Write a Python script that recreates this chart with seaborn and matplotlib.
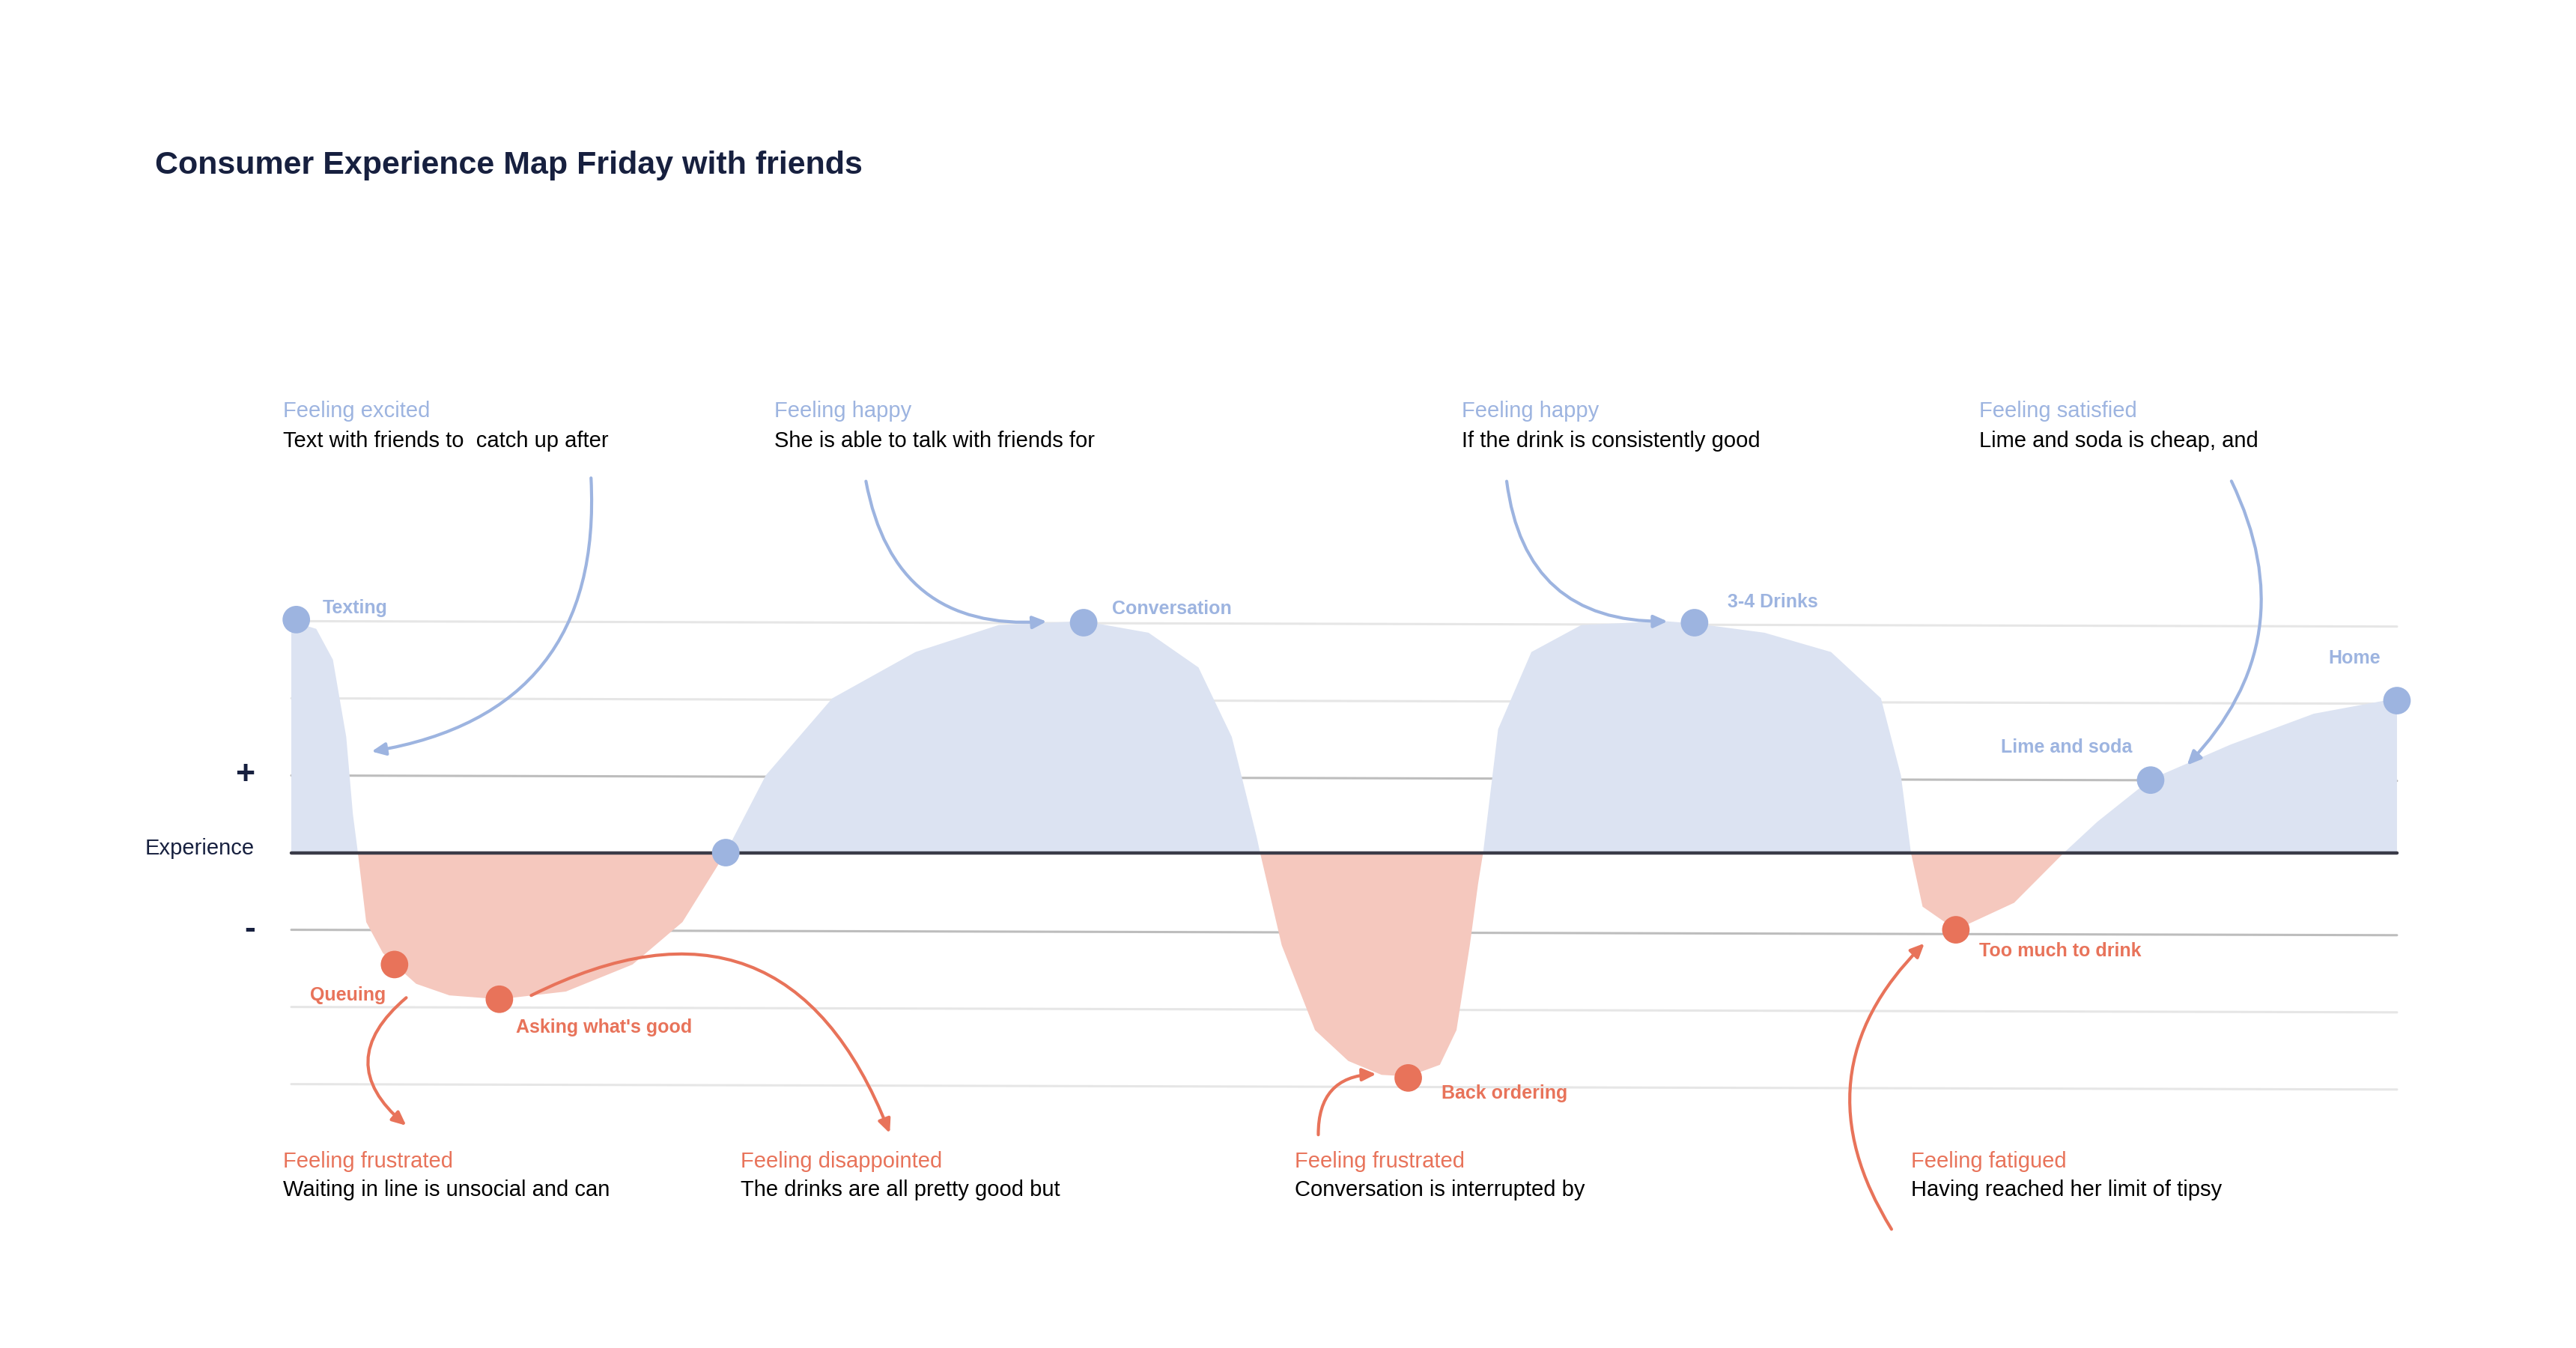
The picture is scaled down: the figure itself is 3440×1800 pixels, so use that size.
import numpy as np
import pandas as pd
import matplotlib
matplotlib.use("Agg")
import matplotlib.pyplot as plt
import seaborn as sns

# curve: timeline position and experience level
curve_x = [175, 190, 200, 208, 212, 215, 220, 230, 237, 250, 270, 300, 340, 380, 410, 436,
           460, 500, 550, 600, 651, 690, 720, 740, 755, 757, 770, 790, 810, 830, 846, 865,
           875, 883, 888, 891, 900, 920, 950, 1000, 1018, 1060, 1100, 1130, 1142, 1148,
           1155, 1175, 1210, 1240, 1260, 1292, 1340, 1390, 1440]
curve_y = [3.0, 2.9, 2.5, 1.5, 0.5, 0.0, -0.9, -1.3, -1.45, -1.7, -1.85, -1.9, -1.8, -1.45,
           -0.9, 0.0, 1.0, 2.0, 2.6, 2.95, 3.0, 2.85, 2.4, 1.5, 0.2, 0.0, -1.2, -2.3, -2.7,
           -2.88, -2.9, -2.75, -2.3, -1.2, -0.4, 0.0, 1.6, 2.6, 2.95, 3.0, 2.97, 2.85, 2.6,
           2.0, 1.0, 0.0, -0.7, -1.0, -0.65, 0.0, 0.4, 0.95, 1.4, 1.8, 2.0]

point_names = ["Texting", "Queuing", "Asking what's good", "", "Conversation", "Back ordering",
               "3-4 Drinks", "Too much to drink", "Lime and soda", "Home"]
point_x = [178, 237, 300, 436, 651, 846, 1018, 1175, 1292, 1440]
point_y = [3.02, -1.45, -1.9, 0.0, 2.98, -2.92, 2.98, -1.0, 0.94, 1.97]
point_mood = ["pos", "neg", "neg", "pos", "pos", "neg", "pos", "neg", "pos", "pos"]

top_heads = ["Feeling excited", "Feeling happy", "Feeling happy", "Feeling satisfied"]
top_texts = ["Text with friends to  catch up after", "She is able to talk with friends for",
             "If the drink is consistently good", "Lime and soda is cheap, and"]
top_x = [170, 465, 878, 1189]
bot_heads = ["Feeling frustrated", "Feeling disappointed", "Feeling frustrated", "Feeling fatigued"]
bot_texts = ["Waiting in line is unsocial and can", "The drinks are all pretty good but",
             "Conversation is interrupted by", "Having reached her limit of tipsy"]
bot_x = [170, 445, 778, 1148]

grid_levels = [3, 2, 1, -1, -2, -3]

BLUE = "#9DB4E0"
BLUE_FILL = "#DCE3F2"
RED = "#E8735A"
RED_FILL = "#F5C8BE"
NAVY = "#17203F"

sns.set_style("white")
plt.rcParams["font.family"] = ["Liberation Sans", "DejaVu Sans"]

fig = plt.figure(figsize=(34.41, 18), dpi=100)
ax = fig.add_axes([0, 0, 1, 1])
ax.set_xlim(0, 1548)
ax.set_ylim(-6.42, 11.05)
ax.axis("off")

def lv(py):
    # pixel row of the reference -> experience level
    return (516 - py) / 46.7

# grid
for g in grid_levels:
    col = "#BDBDBD" if abs(g) == 1 else "#E6E6E6"
    ax.plot([175, 1440], [g, g - 0.07], color=col, lw=2.2, zorder=1)

cx = np.array(curve_x, dtype=float)
cy = np.array(curve_y)
ax.fill_between(cx, 0, cy, where=cy >= 0, interpolate=True, color=BLUE_FILL, lw=0, zorder=2)
ax.fill_between(cx, 0, cy, where=cy <= 0, interpolate=True, color=RED_FILL, lw=0, zorder=2)
ax.plot([175, 1440], [0, 0], color="#3A3B48", lw=3.2, zorder=3)

pts = pd.DataFrame({"x": point_x, "y": point_y, "mood": point_mood})
sns.scatterplot(data=pts, x="x", y="y", hue="mood", palette={"pos": BLUE, "neg": RED},
                s=700, edgecolor="none", legend=False, ax=ax, zorder=5)

# point labels
lab_off = {"Texting": (16, 0.15, "left"), "Queuing": (-5, -0.4, "right"),
           "Asking what's good": (10, -0.37, "left"), "Conversation": (17, 0.18, "left"),
           "Back ordering": (20, -0.2, "left"), "3-4 Drinks": (20, 0.27, "left"),
           "Too much to drink": (14, -0.28, "left"), "Lime and soda": (-11, 0.42, "right"),
           "Home": (-10, 0.55, "right")}
for name, x, y, m in zip(point_names, point_x, point_y, point_mood):
    if not name:
        continue
    dx, dy, ha = lab_off[name]
    ax.text(x + dx, y + dy, name, color=BLUE if m == "pos" else RED, fontsize=18,
            fontweight="bold", ha=ha, va="center")

for x, h, t in zip(top_x, top_heads, top_texts):
    ax.text(x, lv(249), h, color=BLUE, fontsize=21, va="center")
    ax.text(x, lv(267), t, color="black", fontsize=21, va="center")
for x, h, t in zip(bot_x, bot_heads, bot_texts):
    ax.text(x, lv(703), h, color=RED, fontsize=21, va="center")
    ax.text(x, lv(720), t, color="black", fontsize=21, va="center")

ax.text(93, lv(100), "Consumer Experience Map Friday with friends", color=NAVY,
        fontsize=31, fontweight="bold", va="center")
ax.text(153, 0.05, "Experience", color=NAVY, fontsize=21, ha="right", va="center")
ax.text(147, 1.0, "+", color=NAVY, fontsize=32, fontweight="bold", ha="center", va="center")
ax.text(150, -1.0, "-", color=NAVY, fontsize=32, fontweight="bold", ha="center", va="center")

# arrows
arrows = [((355, 288), (222, 455), -0.45, BLUE), ((520, 290), (630, 376), 0.45, BLUE),
          ((905, 290), (1003, 376), 0.45, BLUE), ((1340, 290), (1313, 464), -0.35, BLUE),
          ((245, 603), (245, 682), 0.6, RED), ((318, 603), (535, 687), -0.55, RED),
          ((792, 688), (828, 650), -0.5, RED), ((1137, 745), (1157, 570), -0.4, RED)]
for (x0, y0), (x1, y1), rad, col in arrows:
    ax.annotate("", xy=(x1, lv(y1)), xytext=(x0, lv(y0)),
                arrowprops=dict(arrowstyle="-|>,head_length=1.1,head_width=0.5", color=col,
                                lw=3, connectionstyle=f"arc3,rad={rad}"), zorder=4)

fig.savefig("out.png", dpi=100, facecolor="white")
